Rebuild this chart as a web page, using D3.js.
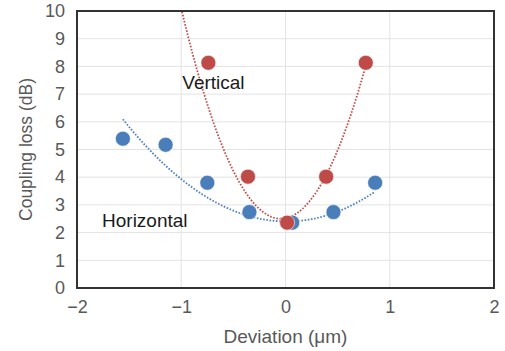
<!DOCTYPE html>
<html><head><meta charset="utf-8">
<script src="https://cdn.jsdelivr.net/npm/d3@7"></script>
<style>body{margin:0;background:#fff}svg{display:block}</style>
</head><body>
<svg id="chart" width="505" height="351"></svg>
<script>
// Data
const horizontalX = [-1.56, -1.15, -0.75, -0.346, 0.064, 0.46, 0.86];
const horizontalY = [5.39, 5.17, 3.80, 2.74, 2.36, 2.74, 3.80];
const verticalX = [-0.74, -0.36, 0.016, 0.39, 0.77];
const verticalY = [8.13, 4.02, 2.36, 4.02, 8.13];
// Polynomial (2nd order) trendline coefficients [a, b, c] for y = a x^2 + b x + c, and x ranges
const horizontalTrend = [1.495, -0.032, 2.402];
const horizontalTrendRange = [-1.56, 0.86];
const verticalTrend = [8.32, 0.749, 2.517];
const verticalTrendRange = [-1.0, 0.77];
const xTicks = [-2, -1, 0, 1, 2];
const yTicks = [0, 1, 2, 3, 4, 5, 6, 7, 8, 9, 10];
const labels = {x: "Deviation (\u03bcm)", y: "Coupling loss (dB)", h: "Horizontal", v: "Vertical"};

const svg = d3.select("#chart");
const L = 77, R = 494, T = 11, B = 288;
const x = d3.scaleLinear().domain([-2, 2]).range([L, R]);
const y = d3.scaleLinear().domain([0, 10]).range([B, T]);
const font = "'Liberation Sans', Arial, sans-serif";

// gridlines
svg.append("g").selectAll("line").data(yTicks).join("line")
  .attr("x1", L).attr("x2", R).attr("y1", d => y(d)).attr("y2", d => y(d))
  .attr("stroke", "#e3e3e3").attr("stroke-width", 1);
svg.append("g").selectAll("line").data(xTicks).join("line")
  .attr("y1", T).attr("y2", B).attr("x1", d => x(d)).attr("x2", d => x(d))
  .attr("stroke", "#e3e3e3").attr("stroke-width", 1);

// axes (labels only)
const fmt = d3.format("d");
const xAxis = d3.axisBottom(x).tickValues(xTicks).tickFormat(fmt).tickSize(0).tickPadding(12);
const gx = svg.append("g").attr("transform", `translate(0,${B})`).call(xAxis);
const yAxis = d3.axisLeft(y).tickValues(yTicks).tickFormat(fmt).tickSize(0).tickPadding(12);
const gy = svg.append("g").attr("transform", `translate(${L},0)`).call(yAxis);
[gx, gy].forEach(g => {
  g.select(".domain").remove();
  g.selectAll("text").attr("fill", "#595959").style("font-family", font).style("font-size", "18px");
});

// clip
svg.append("clipPath").attr("id", "clip").append("rect")
  .attr("x", L).attr("y", T).attr("width", R - L).attr("height", B - T);

function trend(coef, range) {
  const n = 80, pts = [];
  for (let i = 0; i <= n; i++) {
    const xv = range[0] + (range[1] - range[0]) * i / n;
    pts.push([xv, coef[0] * xv * xv + coef[1] * xv + coef[2]]);
  }
  return pts;
}
const line = d3.line().x(d => x(d[0])).y(d => y(d[1]));
const gTrend = svg.append("g").attr("clip-path", "url(#clip)");
gTrend.append("path").attr("d", line(trend(verticalTrend, verticalTrendRange)))
  .attr("fill", "none").attr("stroke", "#c0504d").attr("stroke-width", 1.8).attr("stroke-dasharray", "1.6,1.6");
gTrend.append("path").attr("d", line(trend(horizontalTrend, horizontalTrendRange)))
  .attr("fill", "none").attr("stroke", "#4f81bd").attr("stroke-width", 1.8).attr("stroke-dasharray", "1.6,1.6");

// points
svg.append("g").selectAll("circle").data(horizontalX).join("circle")
  .attr("cx", d => x(d)).attr("cy", (d, i) => y(horizontalY[i])).attr("r", 7.5)
  .attr("fill", "#4a7ebb").attr("stroke", "#fff").attr("stroke-width", 0.6);
svg.append("g").selectAll("circle").data(verticalX).join("circle")
  .attr("cx", d => x(d)).attr("cy", (d, i) => y(verticalY[i])).attr("r", 7.5)
  .attr("fill", "#be4b48").attr("stroke", "#fff").attr("stroke-width", 0.6);

// border
svg.append("rect").attr("x", L).attr("y", T).attr("width", R - L).attr("height", B - T)
  .attr("fill", "none").attr("stroke", "#333").attr("stroke-width", 2);

// annotations
svg.append("text").attr("x", x(-0.99)).attr("y", y(7.2)).text(labels.v)
  .style("font-family", font).style("font-size", "19px").attr("fill", "#1a1a1a");
svg.append("text").attr("x", x(-1.76)).attr("y", y(2.2)).text(labels.h)
  .style("font-family", font).style("font-size", "19px").attr("fill", "#1a1a1a");

// axis titles
svg.append("text").attr("x", (L + R) / 2).attr("y", 343).attr("text-anchor", "middle").text(labels.x)
  .style("font-family", font).style("font-size", "19px").attr("fill", "#595959");
svg.append("text").attr("transform", `translate(32,${(T + B) / 2}) rotate(-90)`).attr("text-anchor", "middle").text(labels.y)
  .style("font-family", font).style("font-size", "17.5px").attr("fill", "#595959");
</script>
</body></html>
